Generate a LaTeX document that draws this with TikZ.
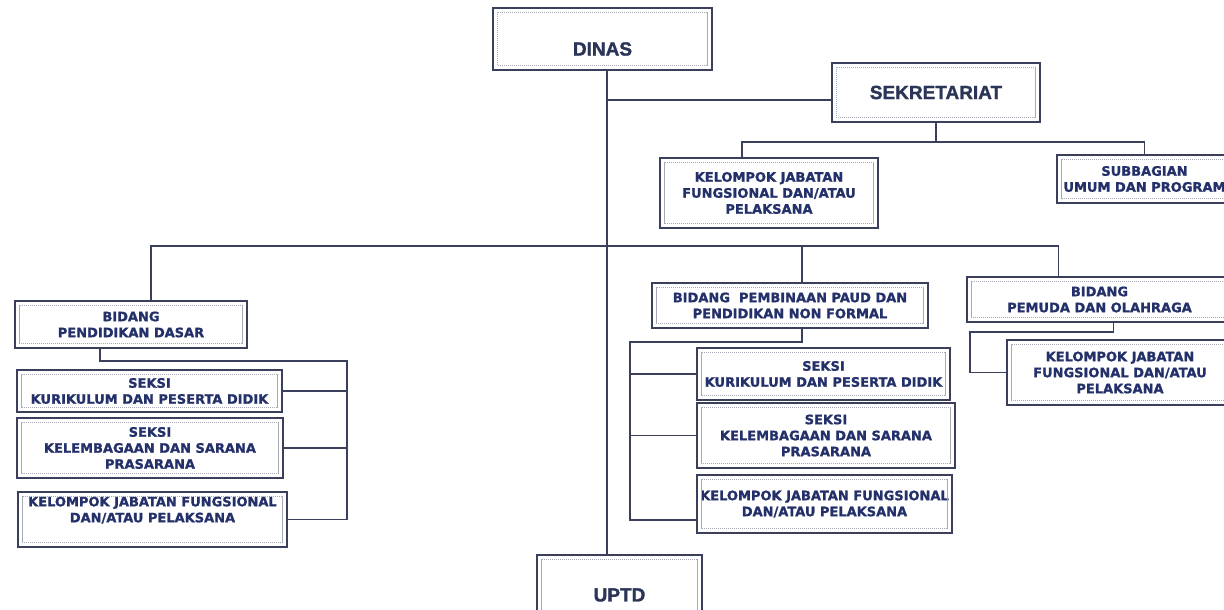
\documentclass[tikz,border=0pt]{standalone}
\usepackage{fontspec}
\setmainfont{DejaVu Sans}
\newfontfamily\boxfont[FakeBold=1.2]{DejaVu Sans Bold}
\newfontfamily\headfont[FakeBold=1.6]{Liberation Sans Bold}
\definecolor{lineC}{HTML}{3A3F5C}
\definecolor{txtC}{HTML}{24306A}
\definecolor{bigC}{HTML}{2B3558}
\definecolor{innerC}{HTML}{A8AAB8}
% \orgbox[style]{name}{x1}{y1}{x2}{y2}{text}
\newcommand\orgbox[7][smallbox]{%
  \node[#1, minimum width={(#5-#3)*1pt}, minimum height={(#6-#4)*1pt}] (#2) at ({(#3+#5)/2},{(#4+#6)/2}) {#7};
  \draw[innerline] ([shift={(5pt,-5pt)}]#2.north west) rectangle ([shift={(-5pt,5pt)}]#2.south east);}
\begin{document}
\begin{tikzpicture}[x=1pt,y=-1pt,
  smallbox/.style={draw=lineC, line width=1.4pt, inner sep=0pt, align=center, text=txtC,
    font=\boxfont\fontsize{13}{16}\selectfont},
  bigbox/.style={smallbox, font=\headfont\fontsize{19}{22}\selectfont, text=bigC},
  bigtxt/.style={font=\headfont\fontsize{19}{22}\selectfont, text=bigC, inner sep=0pt},
  innerline/.style={draw=innerC, line width=0.5pt, dash pattern=on 1.2pt off 0.8pt},
  ln/.style={draw=lineC, line width=1.3pt}]
\useasboundingbox[fill=white] (0,0) rectangle (1224,610);

% top level
\orgbox[bigbox, label={[bigtxt, yshift=-10pt]center:DINAS}]{dinas}{493}{8}{712}{70}{}
\orgbox[bigbox]{sek}{832}{63}{1040}{122}{SEKRETARIAT}
\orgbox{kjs}{660}{158}{878}{228}{KELOMPOK JABATAN\\FUNGSIONAL DAN/ATAU\\PELAKSANA}
\orgbox{sub}{1057}{155}{1232}{203}{SUBBAGIAN\\UMUM DAN PROGRAM}
\orgbox[bigbox]{uptd}{537}{555}{702}{635}{UPTD}

% bidang pendidikan dasar
\orgbox{bpd}{15}{301}{247}{348}{BIDANG\\PENDIDIKAN DASAR}
\orgbox{sk1}{17}{370}{282}{412}{SEKSI\\KURIKULUM DAN PESERTA DIDIK}
\orgbox{sk2}{17}{418}{283}{478}{SEKSI\\KELEMBAGAAN DAN SARANA\\PRASARANA}
\orgbox{kl1}{18}{492}{287}{547}{KELOMPOK JABATAN FUNGSIONAL\\DAN/ATAU PELAKSANA\\[4pt]}

% bidang paud
\orgbox{bpa}{652}{283}{928}{328}{BIDANG\ \ PEMBINAAN PAUD DAN\\PENDIDIKAN NON FORMAL}
\orgbox{sm1}{697}{348}{950}{400}{SEKSI\\KURIKULUM DAN PESERTA DIDIK}
\orgbox{sm2}{697}{403}{955}{468}{SEKSI\\KELEMBAGAAN DAN SARANA\\PRASARANA}
\orgbox{km}{697}{475}{952}{533}{KELOMPOK JABATAN FUNGSIONAL\\DAN/ATAU PELAKSANA}

% bidang pemuda
\orgbox{bpm}{967}{277}{1232}{322}{BIDANG\\PEMUDA DAN OLAHRAGA}
\orgbox{kr}{1007}{340}{1233}{405}{KELOMPOK JABATAN\\FUNGSIONAL DAN/ATAU\\PELAKSANA}

% main spine
\coordinate (mx) at (607,0);
\draw[ln] (dinas.south -| mx) -- (uptd.north -| mx);
\coordinate (js) at (607,100);
\draw[ln] (js) -- (js -| sek.west);

% sekretariat bus
\coordinate (bs) at (0,142);
\coordinate (kjsTop) at ([xshift=-27pt]kjs.north);
\draw[ln] (sek.south) -- (sek.south |- bs);
\draw[ln] (kjsTop) |- (sub.north |- bs) -- (sub.north);

% bidang bus
\coordinate (bl) at (0,246);
\coordinate (pdTop) at ([xshift=20pt]bpd.north);
\coordinate (paTop) at ([xshift=12pt]bpa.north);
\coordinate (pmTop) at ([xshift=-41pt]bpm.north);
\draw[ln] (pdTop) |- (pmTop |- bl) -- (pmTop);
\draw[ln] (paTop) -- (paTop |- bl);

% pendidikan dasar bracket
\coordinate (pdBot) at ([xshift=-31pt]bpd.south);
\coordinate (pdr) at (347,361);
\draw[ln] (pdBot) |- (pdr) |- (kl1.east);
\draw[ln] (sk1.east) -- (sk1.east -| pdr);
\draw[ln] (sk2.east) -- (sk2.east -| pdr);

% paud bracket
\coordinate (paBot) at ([xshift=12pt]bpa.south);
\coordinate (pal) at (630,342);
\coordinate (kmIn) at ([yshift=-16pt]km.west);
\draw[ln] (paBot) |- (pal) |- (kmIn);
\draw[ln] (sm1.west -| pal) -- (sm1.west);
\draw[ln] (sm2.west -| pal) -- (sm2.west);

% pemuda bracket
\coordinate (pmBot) at ([xshift=14pt]bpm.south);
\coordinate (pml) at (970,332);
\draw[ln] (pmBot) |- (pml) |- (kr.west);
\end{tikzpicture}
\end{document}
